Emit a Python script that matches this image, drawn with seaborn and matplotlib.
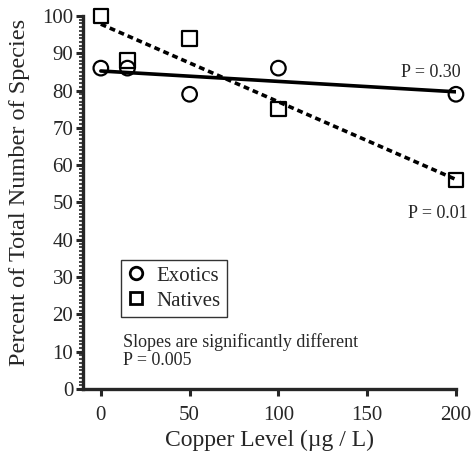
import pandas as pd
import numpy as np
import matplotlib
matplotlib.use("Agg")
import matplotlib.pyplot as plt
import seaborn as sns
from matplotlib.ticker import MultipleLocator
from matplotlib.lines import Line2D

copper = [0, 15, 50, 100, 200]
exotics = [86, 86, 79, 86, 79]
natives = [100, 88, 94, 75, 56]

sns.set_style("ticks")
plt.rcParams["font.family"] = ["Liberation Serif", "DejaVu Serif"]

df = pd.DataFrame({
    "copper": copper * 2,
    "percent": exotics + natives,
    "group": ["Exotics"] * 5 + ["Natives"] * 5,
})

fig = plt.figure(figsize=(4.72, 4.54), dpi=100)
ax = fig.add_axes([0.176, 0.143, 0.790, 0.822])

styles = {"Exotics": ("o", "-"), "Natives": ("s", (0, (1.6, 1.1)))}
for name, (mk, ls) in styles.items():
    sub = df[df["group"] == name]
    sns.regplot(data=sub, x="copper", y="percent", ax=ax, ci=None, scatter=False,
                truncate=True, line_kws={"color": "black", "lw": 2.6, "linestyle": ls})
    sns.scatterplot(data=sub, x="copper", y="percent", ax=ax, marker=mk, s=110,
                    facecolor="none", edgecolor="black", linewidth=1.6,
                    clip_on=False, zorder=3)

ax.set_xlim(-10, 200)
ax.set_ylim(0, 100)
ax.set_xticks([0, 50, 100, 150, 200])
ax.set_yticks(range(0, 101, 10))
ax.yaxis.set_minor_locator(MultipleLocator(1))
ax.tick_params(axis="both", which="major", length=5, width=2.2, labelsize=15, pad=2)
ax.tick_params(axis="y", which="minor", length=3, width=1.2)
ax.tick_params(axis="x", which="major", pad=7)
for side in ["left", "bottom"]:
    ax.spines[side].set_linewidth(2.4)
sns.despine(ax=ax)

ax.set_xlabel("Copper Level (µg / L)", fontsize=17)
ax.xaxis.set_label_coords(0.5, -0.11)
ax.set_ylabel("Percent of Total Number of Species", fontsize=17.5)
ax.yaxis.set_label_coords(-0.142, 0.527)

ax.text(202.5, 82.5, "P = 0.30", fontsize=13, ha="right", va="bottom")
ax.text(206.5, 47.0, "P = 0.01", fontsize=13, ha="right", va="center")
ax.text(12.4, 10.2, "Slopes are significantly different\nP = 0.005", fontsize=13,
        ha="left", va="center", linespacing=1.05)

handles = [
    Line2D([], [], marker="o", linestyle="none", markerfacecolor="none",
           markeredgecolor="black", markeredgewidth=2.0, markersize=9),
    Line2D([], [], marker="s", linestyle="none", markerfacecolor="none",
           markeredgecolor="black", markeredgewidth=2.0, markersize=9),
]
leg = ax.legend(handles, ["Exotics", "Natives"], loc="upper left",
                bbox_to_anchor=(0.1015, 0.346), fontsize=15, frameon=True,
                fancybox=False, edgecolor="black", handletextpad=0.62,
                borderpad=0.3, labelspacing=0.25, handlelength=0.8,
                borderaxespad=0)
leg.get_frame().set_linewidth(1.0)

fig.savefig("out.png", dpi=100)
